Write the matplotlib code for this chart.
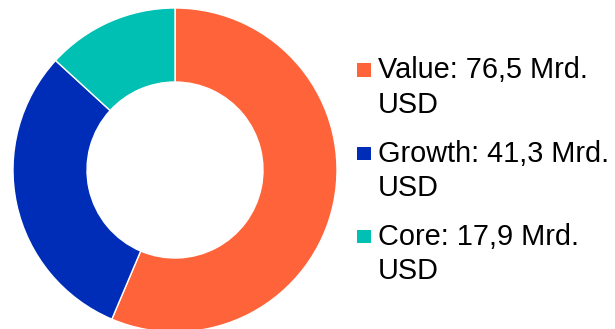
import matplotlib
matplotlib.use("Agg")
import matplotlib.pyplot as plt
from matplotlib.patches import Rectangle

plt.rcParams["font.family"] = ["Liberation Sans", "DejaVu Sans"]

# fund volumes by style, in billions of USD
categories = ["Value", "Growth", "Core"]
volumes = [76.5, 41.3, 17.9]
unit = "Mrd.\nUSD"
colors = ["#FF6339", "#002DB8", "#00C0B4"]

W, H = 615, 329

fig = plt.figure(figsize=(W / 100, H / 100), dpi=100)
# axes covering the whole canvas, one data unit per pixel
ax = fig.add_axes([0, 0, 1, 1])

cx, cy = 175, H - 170
outer_r = 162
ax.pie(
    volumes,
    colors=colors,
    startangle=90,
    counterclock=False,
    center=(cx, cy),
    radius=outer_r,
    wedgeprops=dict(width=outer_r - 88, edgecolor="white", linewidth=1),
    frame=True,
)
ax.set_xlim(0, W)
ax.set_ylim(0, H)
ax.set_axis_off()

# legend entries drawn by hand so the labels can wrap
box = 13.5
line_gap = 34.5
for i, (name, val, col) in enumerate(zip(categories, volumes, colors)):
    top = 63.3 + i * 83.3
    ax.add_patch(Rectangle((357, H - top - box), box, box, facecolor=col,
                           edgecolor="none"))
    label = f"{name}: {val:.1f}".replace(".", ",") + " " + unit
    base = top + 15.0
    for j, line in enumerate(label.split("\n")):
        ax.text(378, H - base - j * line_gap, line, fontsize=20.8,
                color="black", ha="left", va="baseline")

fig.savefig("out.png", dpi=100)
